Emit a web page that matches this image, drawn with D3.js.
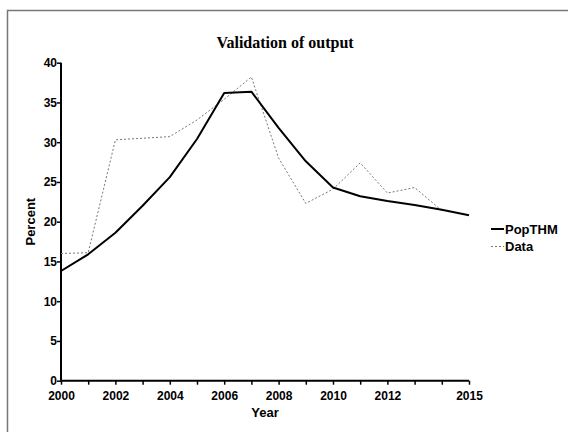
<!DOCTYPE html>
<html>
<head>
<meta charset="utf-8">
<script src="https://cdn.jsdelivr.net/npm/d3@7"></script>
<style>
  html, body { margin: 0; padding: 0; background: #fff; }
  svg { display: block; }
</style>
</head>
<body>
<svg id="chart" width="568" height="432"></svg>
<script>
// Model output vs. observed data, percent by year
const years = [2000, 2001, 2002, 2003, 2004, 2005, 2006, 2007, 2008, 2009, 2010, 2011, 2012, 2013, 2014, 2015];
const popTHM = [13.8, 15.9, 18.6, 22.0, 25.6, 30.4, 36.2, 36.35, 31.8, 27.6, 24.3, 23.2, 22.6, 22.1, 21.5, 20.8];
const dataYears = [2000, 2001, 2002, 2003, 2004, 2005, 2006, 2007, 2008, 2009, 2010, 2011, 2012, 2013, 2014];
const dataValues = [16.0, 16.1, 30.3, 30.5, 30.7, 32.8, 35.4, 38.2, 28.0, 22.3, 24.1, 27.4, 23.6, 24.3, 21.4];
const xTickLabels = [2000, 2002, 2004, 2006, 2008, 2010, 2012, 2015];
const yTickLabels = [0, 5, 10, 15, 20, 25, 30, 35, 40];

const svg = d3.select("#chart");
const plotLeft = 61, plotRight = 469, plotTop = 62.7, plotBottom = 380.7;

const x = d3.scaleLinear().domain([2000, 2015]).range([plotLeft, plotRight]);
const y = d3.scaleLinear().domain([0, 40]).range([plotBottom, plotTop]);

// outer frame
svg.append("path")
  .attr("d", "M7.5,432 V10.5 H568")
  .attr("fill", "none")
  .attr("stroke", "#777")
  .attr("stroke-width", 1.5);

// title
svg.append("text")
  .attr("x", 285).attr("y", 48)
  .attr("text-anchor", "middle")
  .attr("font-family", "Liberation Serif, Times New Roman, serif")
  .attr("font-weight", "bold")
  .attr("font-size", 16)
  .text("Validation of output");

// axes
const xAxis = d3.axisBottom(x)
  .tickValues(years)
  .tickSize(4)
  .tickFormat(d => xTickLabels.includes(d) ? String(d) : "");
const yAxis = d3.axisLeft(y)
  .tickValues(yTickLabels)
  .tickSize(4)
  .tickFormat(d3.format("d"));

const gx = svg.append("g").attr("transform", `translate(0,${plotBottom})`).call(xAxis);
const gy = svg.append("g").attr("transform", `translate(${plotLeft},0)`).call(yAxis);

[gx, gy].forEach(g => {
  g.select(".domain").attr("stroke", "#000").attr("stroke-width", 2);
  g.selectAll(".tick line").attr("stroke", "#000").attr("stroke-width", 1.5);
  g.selectAll(".tick text")
    .attr("font-family", "Liberation Sans, Arial, sans-serif")
    .attr("font-weight", "bold")
    .attr("font-size", 12)
    .attr("fill", "#000");
});
gx.select(".domain").attr("d", `M${plotLeft},0H${plotRight}`);
gy.select(".domain").attr("d", `M0,${plotBottom}V${plotTop}`);
gx.selectAll(".tick text").attr("dy", "0.9em").attr("y", 8.5);
gy.selectAll(".tick text").attr("x", -4);

// axis titles
svg.append("text")
  .attr("x", x(2007.5)).attr("y", 417)
  .attr("text-anchor", "middle")
  .attr("font-family", "Liberation Sans, Arial, sans-serif")
  .attr("font-weight", "bold")
  .attr("font-size", 13)
  .text("Year");
svg.append("text")
  .attr("transform", `translate(35,${(plotTop + plotBottom) / 2}) rotate(-90)`)
  .attr("text-anchor", "middle")
  .attr("font-family", "Liberation Sans, Arial, sans-serif")
  .attr("font-weight", "bold")
  .attr("font-size", 13)
  .text("Percent");

// series
const line = d3.line().x(d => x(d[0])).y(d => y(d[1]));

svg.append("path")
  .datum(dataYears.map((yr, i) => [yr, dataValues[i]]))
  .attr("d", line)
  .attr("fill", "none")
  .attr("stroke", "#777")
  .attr("stroke-width", 1)
  .attr("stroke-dasharray", "2,2");

svg.append("path")
  .datum(years.map((yr, i) => [yr, popTHM[i]]))
  .attr("d", line)
  .attr("fill", "none")
  .attr("stroke", "#000")
  .attr("stroke-width", 2)
  .attr("stroke-linejoin", "round");

// legend
const legend = [
  { name: "PopTHM", stroke: "#000", width: 2, dash: null, y: 229 },
  { name: "Data", stroke: "#777", width: 1, dash: "2,2", y: 246.5 }
];
legend.forEach(item => {
  svg.append("line")
    .attr("x1", 491).attr("x2", 504)
    .attr("y1", item.y).attr("y2", item.y)
    .attr("stroke", item.stroke)
    .attr("stroke-width", item.width)
    .attr("stroke-dasharray", item.dash);
  svg.append("text")
    .attr("x", 505).attr("y", item.y)
    .attr("dy", "0.36em")
    .attr("font-family", "Liberation Sans, Arial, sans-serif")
    .attr("font-weight", "bold")
    .attr("font-size", 13)
    .text(item.name);
});
</script>
</body>
</html>
